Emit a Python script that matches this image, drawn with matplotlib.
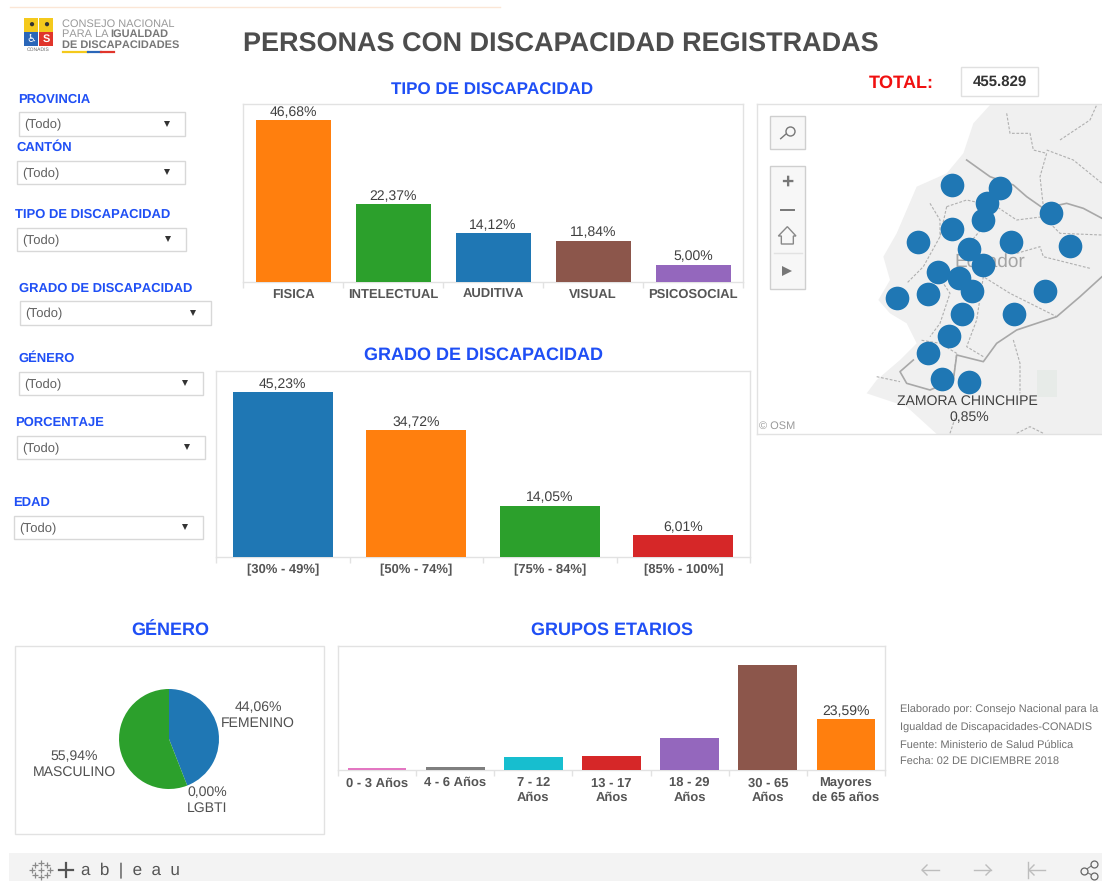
import matplotlib
matplotlib.use("Agg")
import matplotlib.pyplot as plt
from matplotlib.patches import Rectangle, Polygon

plt.rcParams['font.family'] = ['Liberation Sans', 'DejaVu Sans']
plt.rcParams['text.hinting'] = 'no_hinting'
plt.rcParams['text.hinting_factor'] = 1

W, H = 1102, 881
BLUE_T = '#1f4ff5'
TXT = '#505050'
GRID = '#e2e2e2'
C_BLUE, C_OR, C_GR, C_RED, C_PUR, C_BR = '#1f77b4', '#ff7f0e', '#2ca02c', '#d62728', '#9467bd', '#8c564b'

# ---------- data ----------
tipo_labels = ['FISICA', 'INTELECTUAL', 'AUDITIVA', 'VISUAL', 'PSICOSOCIAL']
tipo_values = [46.68, 22.37, 14.12, 11.84, 5.00]
tipo_text = ['46,68%', '22,37%', '14,12%', '11,84%', '5,00%']
tipo_colors = [C_OR, C_GR, C_BLUE, C_BR, C_PUR]

grado_labels = ['[30% - 49%]', '[50% - 74%]', '[75% - 84%]', '[85% - 100%]']
grado_values = [45.23, 34.72, 14.05, 6.01]
grado_text = ['45,23%', '34,72%', '14,05%', '6,01%']
grado_colors = [C_BLUE, C_OR, C_GR, C_RED]

edad_labels = ['0 - 3 Años', '4 - 6 Años', '7 - 12\nAños', '13 - 17\nAños', '18 - 29\nAños', '30 - 65\nAños', 'Mayores\nde 65 años']
edad_values = [0.9, 1.6, 5.9, 6.4, 14.6, 48.6, 23.59]
edad_colors = ['#e377c2', '#7f7f7f', '#17becf', C_RED, C_PUR, C_BR, C_OR]

genero_values = [44.06, 55.94, 0.00]
genero_colors = [C_BLUE, C_GR, '#e377c2']

filtros = ['PROVINCIA', 'CANTÓN', 'TIPO DE DISCAPACIDAD', 'GRADO DE DISCAPACIDAD', 'GÉNERO', 'PORCENTAJE', 'EDAD']

map_px = [606, 751, 710, 698, 903, 606, 503, 782, 959, 657, 698, 565, 627, 667, 534, 441, 885, 637, 792, 596, 534, 575, 657]
map_py = [374, 383, 428, 480, 459, 508, 547, 547, 557, 567, 615, 635, 655, 693, 703, 713, 693, 762, 762, 829, 879, 956, 966]

land_x = [720, 1056, 1056, 560, 470, 350, 380, 450, 500, 470, 420, 385, 420, 400, 440, 470, 500, 590, 640, 670]
land_y = [135, 135, 1122, 1122, 1040, 1000, 960, 900, 850, 790, 760, 720, 660, 590, 520, 450, 380, 340, 280, 190]
border1 = [(650, 300), (720, 350), (790, 375), (830, 410), (880, 445), (950, 430), (1000, 445), (1056, 475)]
border2 = [(1056, 650), (990, 710), (920, 770), (800, 810), (740, 850), (700, 905), (620, 885), (610, 960), (540, 990), (470, 970), (450, 935), (490, 900)]
dashes = [
    [(770, 160), (780, 220), (840, 220), (850, 270), (890, 280), (870, 350), (880, 440)],
    [(930, 240), (1020, 180), (1040, 135)],
    [(890, 270), (970, 300), (1056, 370)],
    [(590, 440), (650, 420), (740, 440), (800, 480), (880, 470)],
    [(590, 440), (570, 530), (520, 620), (470, 670)],
    [(540, 430), (570, 480), (570, 530)],
    [(700, 500), (650, 560), (700, 650), (780, 700), (920, 770)],
    [(880, 470), (930, 520), (1056, 525)],
    [(800, 580), (870, 560), (880, 590), (1020, 625)],
    [(560, 640), (600, 700), (570, 790), (540, 830)],
    [(700, 650), (680, 780), (650, 860), (700, 890)],
    [(790, 840), (810, 910), (810, 1000)],
    [(610, 960), (620, 880), (570, 850), (510, 840)],
    [(380, 950), (450, 965)],
    [(600, 1120), (620, 1060)],
    [(800, 1120), (840, 1100), (880, 1120)],
]

# ---------- helpers ----------
fig = plt.figure(figsize=(W / 100, H / 100), dpi=100, facecolor='white')

def axpx(x0, y0, x1, y1, **kw):
    return fig.add_axes([x0 / W, 1 - y1 / H, (x1 - x0) / W, (y1 - y0) / H], **kw)

bg = axpx(0, 0, W, H)
bg.set_xlim(0, W)
bg.set_ylim(H, 0)
bg.axis('off')

def box(x0, y0, x1, y1, ec=GRID, fc='white', lw=1.0, ax=bg, z=1):
    ax.add_patch(Rectangle((x0, y0), x1 - x0, y1 - y0, ec=ec, fc=fc, lw=lw, zorder=z))

def txt(x, y, s, size=8.5, color=TXT, ha='center', weight='normal', ax=bg, **kw):
    return ax.text(x, y, s, fontsize=size, color=color, ha=ha, va='center', fontweight=weight, **kw)

def barchart(x0, y0, x1, y1, labels, values, colors, ytop, texts, lsize):
    ax = axpx(x0, y0, x1, y1)
    pos = list(range(len(values)))
    ax.bar(pos, values, width=0.75, color=colors, zorder=3)
    ax.set_xlim(-0.5, len(values) - 0.5)
    ax.set_ylim(0, ytop)
    ax.set_yticks([])
    ax.set_xticks(pos)
    ax.set_xticklabels(labels, fontsize=lsize, color='#555555', fontweight='bold', linespacing=1.2)
    ax.set_xticks([p - 0.5 for p in pos] + [len(values) - 0.5], minor=True)
    ax.tick_params(axis='x', which='major', length=0, pad=5)
    ax.tick_params(axis='x', which='minor', length=4, color=GRID, width=1)
    for s in ax.spines.values():
        s.set_color(GRID)
        s.set_linewidth(1.0)
    for p, v, t in zip(pos, values, texts):
        if t:
            ax.annotate(t, (p, v), xytext=(0, 1), textcoords='offset points', ha='center', va='bottom', fontsize=9.8, color='#404040')
    return ax

# ---------- header ----------
bg.plot([10, 500], [7, 7], color='#fbe6d6', lw=1)
box(24, 18, 38, 32, ec='none', fc='#f4c91c')
box(39, 18, 53, 32, ec='none', fc='#f4c91c')
box(24, 32, 38, 46, ec='none', fc='#2a66b8')
box(39, 32, 53, 46, ec='none', fc='#e0352b')
txt(31, 25, '●', 7, '#333333')
txt(46, 25, '●', 7, '#333333')
txt(31, 39, '♿', 8, 'white')
txt(46, 39, 'S', 8, 'white', weight='bold')
txt(38.5, 50, 'CONADIS', 3.6, '#666666')
txt(62, 24, 'CONSEJO NACIONAL', 7.9, '#9a9a9a', ha='left')
txt(62, 34, 'PARA LA', 7.9, '#9a9a9a', ha='left')
txt(110, 34, 'IGUALDAD', 7.7, '#777777', ha='left', weight='bold')
txt(62, 45, 'DE DISCAPACIDADES', 7.9, '#777777', ha='left', weight='bold')
bg.plot([63, 88], [52, 52], color='#f4c91c', lw=1.6)
bg.plot([88, 101], [52, 52], color='#2a66b8', lw=1.6)
bg.plot([101, 114], [52, 52], color='#e0352b', lw=1.6)
txt(561, 45, 'PERSONAS CON DISCAPACIDAD REGISTRADAS', 19.4, '#4d4d4d', weight='bold')

# ---------- filters ----------
flt_label = [(18, 100), (16, 148), (15, 215), (19, 289), (18, 359), (15, 423), (13, 503)]
flt_box = [(19, 112, 185, 136), (17, 161, 185, 184), (17, 228, 186, 251), (20, 301, 211, 325), (19, 372, 203, 395), (17, 436, 205, 459), (14, 516, 203, 539)]
for name, (lx, ly), (a, b, c, d) in zip(filtros, flt_label, flt_box):
    txt(lx, ly, name, 9.7, BLUE_T, ha='left', weight='bold')
    box(a, b, c, d, ec='#d8d8d8')
    txt(a + 5, (b + d) / 2 + 1, '(Todo)', 9.2, '#606060', ha='left')
    bg.plot([c - 18], [(b + d) / 2 - 0.5], marker='v', ms=4.2, color='#333333', mew=0, zorder=3)

# ---------- section titles ----------
txt(492, 90, 'TIPO DE DISCAPACIDAD', 12.3, BLUE_T, weight='bold')
txt(483, 355, 'GRADO DE DISCAPACIDAD', 13.2, BLUE_T, weight='bold')
txt(170, 631, 'GÉNERO', 13, BLUE_T, weight='bold')
txt(612, 630, 'GRUPOS ETARIOS', 13, BLUE_T, weight='bold')

# ---------- bars ----------
barchart(243, 104, 743, 282, tipo_labels, tipo_values, tipo_colors, 51.3, tipo_text, 9.5)
barchart(216, 371, 750, 557, grado_labels, grado_values, grado_colors, 51.0, grado_text, 9.5)
barchart(338, 646, 885, 770, edad_labels, edad_values, edad_colors, 57.4, [''] * 6 + ['23,59%'], 9.5)

# ---------- total ----------
txt(901, 83, 'TOTAL:', 13, '#f01010', weight='bold')
box(961, 67, 1038, 96, ec='#e0e0e0')
txt(1000, 82, '455.829', 10.5, '#333333', weight='bold')

# ---------- map ----------
m = axpx(757, 104, 1102, 434)
m.set_xlim(21, 1056)
m.set_ylim(1122, 132)
m.set_xticks([])
m.set_yticks([])
for s in m.spines.values():
    s.set_color(GRID)
    s.set_linewidth(1.0)
m.spines['right'].set_visible(False)
m.add_patch(Polygon(list(zip(land_x, land_y)), fc='#f0f0f0', ec='none', zorder=1))
m.add_patch(Rectangle((860, 930), 60, 80, fc='#e7ebe8', ec='none', zorder=1.1))
for d in dashes:
    m.plot(*zip(*d), color='#b0b0b0', lw=0.8, ls=(0, (2.5, 1.5)), zorder=2)
m.plot(*zip(*border1), color='#a8a8a8', lw=1.2, zorder=2.2)
m.plot(*zip(*border2), color='#a8a8a8', lw=1.2, zorder=2.2)
m.text(718, 607, 'Ecuador', fontsize=13.5, color='#a4a4a4', ha='center', va='center', zorder=2.5)
m.scatter(map_px, map_py, s=290, color=C_BLUE, zorder=3, linewidths=0)
m.text(652, 1024, 'ZAMORA CHINCHIPE', fontsize=10, color='#404040', ha='center', va='center', zorder=4)
m.text(657, 1072, '0,85%', fontsize=10, color='#404040', ha='center', va='center', zorder=4)
m.text(28, 1098, '© OSM', fontsize=7.8, color='#999999', ha='left', va='center', zorder=4)

for (a, b, c, d) in [(61, 168, 166, 266), (61, 318, 166, 688)]:
    m.add_patch(Rectangle((a, b), c - a, d - b, fc='#f7f7f7', ec='#cfcfcf', lw=1.0, zorder=5))
m.plot([121], [212], marker='o', ms=6.5, mfc='none', mec='#777777', mew=1.0, zorder=6)
m.plot([92, 108], [236, 222], color='#777777', lw=1.0, zorder=6)
m.text(112, 368, '+', fontsize=15, fontweight='bold', color='#777777', ha='center', va='center', zorder=6)
m.plot([93, 131], [449, 449], color='#777777', lw=1.4, zorder=6)
m.add_patch(Polygon([(85, 528), (112, 500), (138, 528), (130, 528), (130, 552), (94, 552), (94, 528)], fc='none', ec='#888888', lw=1.0, zorder=6))
m.plot([72, 156], [580, 580], color='#e2e2e2', lw=1, zorder=6)
m.plot([112], [633], marker='>', ms=7.5, color='#777777', mew=0, zorder=6)

# ---------- pie ----------
box(15, 646, 324, 834)
pie = axpx(119, 689, 219, 789)
pie.pie(genero_values, colors=genero_colors, startangle=90, counterclock=False, radius=1)
pie.set_xlim(-1, 1)
pie.set_ylim(-1, 1)
pie.patch.set_alpha(0)
txt(258, 708, '44,06%', 9.8)
txt(258, 723, 'FEMENINO', 9.8)
txt(74, 757, '55,94%', 9.8)
txt(74, 772, 'MASCULINO', 9.8)
txt(207, 793, '0,00%', 9.8)
txt(207, 808, 'LGBTI', 9.8)

# ---------- notes ----------
txt(900, 710, 'Elaborado por: Consejo Nacional para la', 8.0, '#707070', ha='left', clip_on=True)
txt(900, 728, 'Igualdad de Discapacidades-CONADIS', 8.0, '#707070', ha='left', clip_on=True)
txt(900, 745, 'Fuente: Ministerio de Salud Pública', 8.0, '#707070', ha='left')
txt(900, 762, 'Fecha: 02 DE DICIEMBRE 2018', 8.0, '#707070', ha='left')

# ---------- footer ----------
box(9, 853, W, H, ec='none', fc='#f3f3f3')
bg.plot([41, 41, 32, 50, 35, 47, 35, 47, 41], [863, 877, 870, 870, 865, 865, 875, 875, 870], ls='none', marker='+', ms=5, mew=0.9, color='#8a8a8a', zorder=3)
bg.plot([66, 66], [863, 877], color='#555555', lw=1.6, zorder=3)
bg.plot([59, 73], [870, 870], color='#555555', lw=1.6, zorder=3)
txt(81, 870, 'a  b  |  e  a  u', 12.5, '#555555', ha='left')
for x0, x1 in [(939, 922), (974, 991)]:
    d = 5 if x1 > x0 else -5
    bg.plot([x0, x1], [870, 870], color='#bdbdbd', lw=1, zorder=3)
    bg.plot([x1 - d, x1, x1 - d], [865, 870, 875], color='#bdbdbd', lw=1, zorder=3)
bg.plot([1028, 1028], [862, 878], color='#bdbdbd', lw=1, zorder=3)
bg.plot([1045, 1029], [870, 870], color='#bdbdbd', lw=1, zorder=3)
bg.plot([1034, 1029, 1034], [865, 870, 875], color='#bdbdbd', lw=1, zorder=3)
bg.plot([1094, 1084, 1094], [864, 871, 876], color='#777777', lw=0.8, marker='o', ms=5, mfc='#f3f3f3', mec='#666666', mew=0.9, zorder=3)

fig.savefig('out.png', dpi=100)
